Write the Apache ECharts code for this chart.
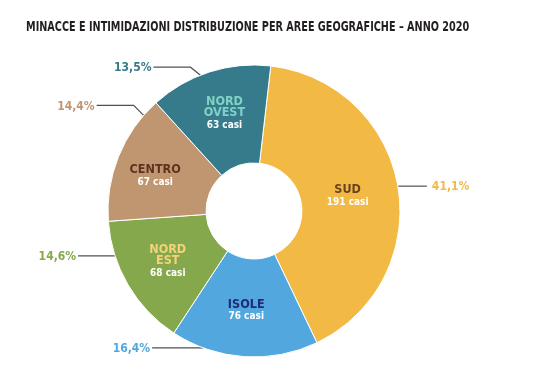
<!DOCTYPE html>
<html><head><meta charset="utf-8">
<script src="https://cdn.jsdelivr.net/npm/echarts@6/dist/echarts.min.js"></script>
<style>html,body{margin:0;padding:0;background:#fff}#c{width:540px;height:388px}</style>
</head><body><div id="c"></div>
<script>
// ---- data ----
const regions = ['SUD', 'ISOLE', 'NORD EST', 'CENTRO', 'NORD OVEST'];
const nameLines = ['SUD', 'ISOLE', 'NORD\nEST', 'CENTRO', 'NORD\nOVEST'];
const cases = [191, 76, 68, 67, 63];
const percentLabels = ['41,1%', '16,4%', '14,6%', '14,4%', '13,5%'];
const titleText = 'MINACCE E INTIMIDAZIONI DISTRIBUZIONE PER AREE GEOGRAFICHE – ANNO 2020';

// ---- style ----
const sliceColors = ['#F2BA44', '#52A8DE', '#85A84C', '#C09670', '#367B8B'];
const nameColors = ['#6A4322', '#1F2C78', '#F4D27A', '#5B3320', '#7FD2C6'];
const innerShift = [[-5, 2], [-1, 0], [0, 0], [-6, 3], [1, -2]];
const FONT = '"DejaVu Sans Condensed", "DejaVu Sans", sans-serif';
// leader geometry: anchor angle (deg clockwise from top), elbow offset, horizontal length
const leaders = [
  {a: 80.2, ex: 0, ey: 0, len: 29},
  {a: 200.4, ex: 0, ey: 0, len: 51},
  {a: 252.1, ex: 0, ey: 0, len: 37},
  {a: 310.9, ex: -10, ey: -10, len: 37},
  {a: 338.5, ex: -10, ey: -8, len: 37}
];

const chart = echarts.init(document.getElementById('c'), null, {renderer: 'canvas'});
const CX = 254, CY = 211, R0 = 48, R1 = 146;

const dataMain = regions.map((r, i) => ({name: r, value: cases[i], itemStyle: {color: sliceColors[i]}}));
const dataInner = regions.map((r, i) => ({
  name: r, value: cases[i],
  label: {
    formatter: '{n|' + nameLines[i].split('\n').join('}\n{n|') + '}\n{c|' + cases[i] + ' casi}',
    rich: {
      n: {color: nameColors[i], fontFamily: FONT, fontWeight: 'bold', fontSize: 12.5, lineHeight: 11.5},
      c: {color: '#ffffff', fontFamily: FONT, fontWeight: 'bold', fontSize: 10, lineHeight: 13}
    }
  }
}));

chart.setOption({
  animation: false,
  graphic: [{
    type: 'text', x: 26, y: 27, scaleX: 0.768, silent: true,
    style: {
      text: titleText, fill: '#231f20',
      font: 'bold 14px ' + FONT,
      verticalAlign: 'middle', align: 'left'
    }
  }],
  series: [
    {
      type: 'pie', center: [CX, CY], radius: [R0, R1], startAngle: 83.4, clockwise: true,
      silent: true,
      itemStyle: {borderColor: '#ffffff', borderWidth: 1},
      data: dataMain,
      label: {
        show: true, position: 'outside',
        formatter: p => percentLabels[p.dataIndex],
        fontFamily: FONT, fontWeight: 'bold', fontSize: 12,
        color: 'inherit'
      },
      labelLine: {show: true, lineStyle: {color: '#505050', width: 1.2}},
      labelLayout: function (params) {
        const i = params.dataIndex;
        const g = leaders[i];
        const rad = g.a * Math.PI / 180;
        const ax = CX + R1 * Math.sin(rad), ay = CY - R1 * Math.cos(rad);
        const right = Math.sin(rad) > 0;
        const bx = ax + g.ex, by = ay + g.ey;
        const ex = bx + (right ? g.len : -g.len);
        return {
          x: ex + (right ? 5 : -2), y: by + 1,
          align: right ? 'left' : 'right', verticalAlign: 'middle',
          labelLinePoints: [[ax, ay], [bx, by], [ex, by]]
        };
      }
    },
    {
      type: 'pie', center: [CX, CY], radius: [R0, R1], startAngle: 83.4, clockwise: true,
      silent: true, z: 3,
      itemStyle: {color: 'rgba(0,0,0,0)', borderWidth: 0},
      label: {show: true, position: 'inside', align: 'center'},
      labelLine: {show: false},
      labelLayout: function (params) {
        const s = innerShift[params.dataIndex];
        return {dx: s[0], dy: s[1]};
      },
      data: dataInner
    }
  ]
});
</script>
</body></html>
